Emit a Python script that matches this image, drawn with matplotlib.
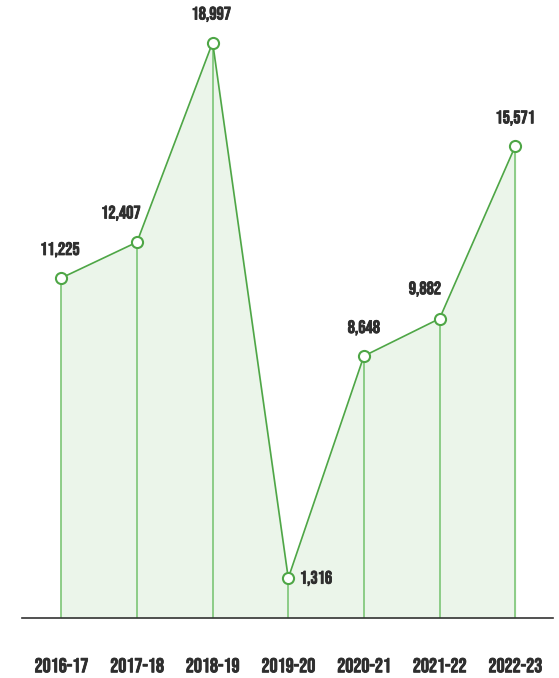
import matplotlib.pyplot as plt
import matplotlib.patheffects as pe

years = ['2016-17', '2017-18', '2018-19', '2019-20', '2020-21', '2021-22', '2022-23']
values = [11225, 12407, 18997, 1316, 8648, 9882, 15571]
# label offsets in points (dx, dy)
offsets = [(-1, 20.5), (-11.5, 21), (-1, 20.5), (20, 0), (0, 20.5), (-10.5, 21.5), (0, 20.5)]

fam = ['Bebas Neue', 'Oswald', 'DejaVu Sans']
txt_c = '#2e2e2e'
heavy = [pe.withStroke(linewidth=0.6, foreground=txt_c)]

fig = plt.figure(figsize=(5.59, 6.78), dpi=100)
ax = fig.add_axes([22 / 559, 60 / 678, 531 / 559, 618 / 678])

x = list(range(len(years)))
line_c = '#4ea646'
ax.fill_between(x, values, 0, color='#ebf5ea', zorder=1)
ax.vlines(x, 0, values, color='#7cc576', lw=1.2, zorder=2)
ax.plot(x, values, color=line_c, lw=1.2, zorder=3,
        marker='o', ms=8, mfc='white', mec=line_c, mew=1.5)

for xi, v, (dx, dy) in zip(x, values, offsets):
    ax.annotate(f'{v:,}', (xi, v), xytext=(dx, dy), textcoords='offset points',
                ha='center', va='center', fontsize=13, fontweight='bold',
                family=fam, color=txt_c, path_effects=heavy)

ax.set_xlim(-0.52, 6.5)
ax.set_ylim(0, 20400)
ax.set_yticks([])
ax.set_xticks(x)
ax.set_xticklabels(years, fontsize=14.5, fontweight='bold', family=fam, color=txt_c,
                   path_effects=heavy)
ax.tick_params(axis='x', length=0, pad=29)
for s in ['top', 'right', 'left']:
    ax.spines[s].set_visible(False)
ax.spines['bottom'].set_color('#333333')
ax.spines['bottom'].set_linewidth(1.2)

plt.savefig('out.png', dpi=100)
